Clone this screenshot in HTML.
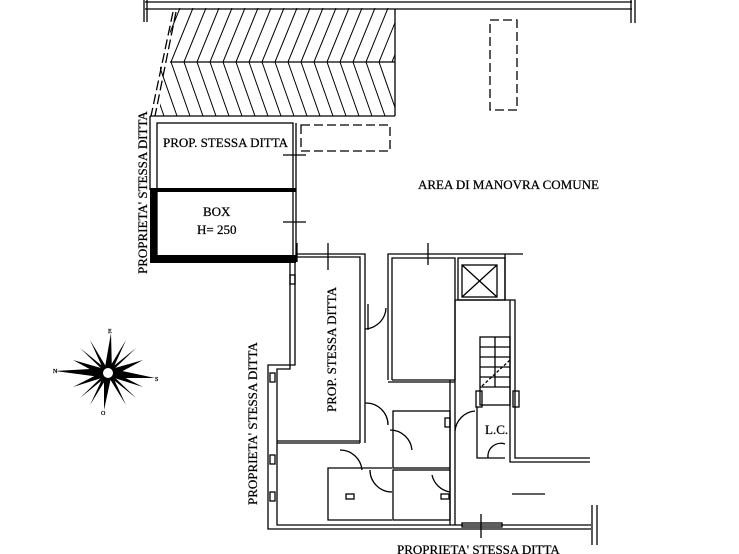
<!DOCTYPE html>
<html><head><meta charset="utf-8"><style>
html,body{margin:0;padding:0;background:#fff}
svg{display:block}
text{font-family:"Liberation Serif",serif;font-size:13px;fill:#000;stroke:#000;stroke-width:0.25}
</style></head><body>
<svg width="739" height="554" viewBox="0 0 739 554" xmlns="http://www.w3.org/2000/svg">
<defs>
<clipPath id="up"><rect x="170" y="8" width="225" height="54"/></clipPath>
<clipPath id="dn"><rect x="160" y="62" width="235" height="54"/></clipPath>
</defs>
<g stroke="#000" fill="none" stroke-width="1.3">
<line x1="145" y1="2" x2="632" y2="2"/>
<line x1="145" y1="9" x2="632" y2="9"/>
<line x1="144" y1="0" x2="144" y2="22"/><line x1="147" y1="0" x2="147" y2="22"/>
<line x1="631" y1="0" x2="631" y2="23"/><line x1="635" y1="0" x2="635" y2="23"/>
<line x1="395" y1="9" x2="395" y2="116"/>
<line x1="170" y1="62" x2="395" y2="62"/>
<line x1="150" y1="116" x2="395" y2="116"/>
<line x1="173" y1="12" x2="151" y2="116" stroke-dasharray="10 4"/>
<line x1="176" y1="12" x2="155" y2="116" stroke-dasharray="10 4"/>
<g clip-path="url(#up)" stroke-width="1">
<line x1="158" y1="62" x2="180" y2="8"/><line x1="171" y1="62" x2="193" y2="8"/><line x1="184" y1="62" x2="206" y2="8"/><line x1="197" y1="62" x2="219" y2="8"/><line x1="210" y1="62" x2="232" y2="8"/><line x1="223" y1="62" x2="245" y2="8"/><line x1="236" y1="62" x2="258" y2="8"/><line x1="249" y1="62" x2="271" y2="8"/><line x1="262" y1="62" x2="284" y2="8"/><line x1="275" y1="62" x2="297" y2="8"/><line x1="288" y1="62" x2="310" y2="8"/><line x1="301" y1="62" x2="323" y2="8"/><line x1="314" y1="62" x2="336" y2="8"/><line x1="327" y1="62" x2="349" y2="8"/><line x1="340" y1="62" x2="362" y2="8"/><line x1="353" y1="62" x2="375" y2="8"/><line x1="366" y1="62" x2="388" y2="8"/><line x1="379" y1="62" x2="401" y2="8"/><line x1="392" y1="62" x2="414" y2="8"/>
</g>
<g clip-path="url(#dn)" stroke-width="1">
<line x1="158" y1="62" x2="177" y2="116"/><line x1="171" y1="62" x2="190" y2="116"/><line x1="184" y1="62" x2="203" y2="116"/><line x1="197" y1="62" x2="216" y2="116"/><line x1="210" y1="62" x2="229" y2="116"/><line x1="223" y1="62" x2="242" y2="116"/><line x1="236" y1="62" x2="255" y2="116"/><line x1="249" y1="62" x2="268" y2="116"/><line x1="262" y1="62" x2="281" y2="116"/><line x1="275" y1="62" x2="294" y2="116"/><line x1="288" y1="62" x2="307" y2="116"/><line x1="301" y1="62" x2="320" y2="116"/><line x1="314" y1="62" x2="333" y2="116"/><line x1="327" y1="62" x2="346" y2="116"/><line x1="340" y1="62" x2="359" y2="116"/><line x1="353" y1="62" x2="372" y2="116"/><line x1="366" y1="62" x2="385" y2="116"/><line x1="379" y1="62" x2="398" y2="116"/><line x1="145" y1="62" x2="164" y2="116"/>
</g>
<line x1="150" y1="116" x2="150" y2="190"/>
<rect x="157" y="123" width="136" height="135"/>
<line x1="296" y1="123" x2="296" y2="262"/>
<line x1="283" y1="155" x2="306" y2="155"/><line x1="283" y1="222" x2="306" y2="222"/>
<rect x="301" y="125" width="89" height="26" stroke-dasharray="9 4"/>
<rect x="490" y="20" width="27" height="90" stroke-dasharray="9 4"/>
</g>
<g fill="#000">
<rect x="150" y="188" width="146" height="4"/>
<rect x="150" y="188" width="7" height="75"/>
<rect x="150" y="255" width="146" height="8"/>
</g>
<g stroke="#000" fill="none" stroke-width="1.3">
<polyline points="296,254 365,254 365,443"/>
<polyline points="296,257 360,257 360,443"/>
<polyline points="295,262 295,365 268,365 268,529 591,529"/>
<polyline points="290,262 290,369 277,369 277,525 591,525"/>
<line x1="592" y1="505" x2="592" y2="545"/><line x1="597" y1="505" x2="597" y2="545"/>
<line x1="277" y1="443" x2="360" y2="443"/>
<line x1="277" y1="441" x2="360" y2="441"/>
<line x1="297" y1="243" x2="297" y2="262" />
<line x1="328" y1="243" x2="328" y2="270"/>
<line x1="368" y1="304" x2="368" y2="330"/>
<path d="M365,329 A22,22 0 0 0 386,308"/>
<polyline points="388,380 388,254 523,254"/>
<polyline points="392,380 392,258 455,258 455,380 392,380"/>
<line x1="388" y1="382" x2="455" y2="382"/>
<line x1="428" y1="243" x2="428" y2="265"/>
<rect x="458" y="258" width="47" height="42"/>
<rect x="462" y="265" width="35" height="32"/>
<line x1="462" y1="265" x2="497" y2="297"/><line x1="497" y1="265" x2="462" y2="297"/>
<polyline points="505,254 505,300 515,300 515,458 590,458"/>
<polyline points="455,300 505,300"/>
<polyline points="510,300 510,462 590,462"/>
<line x1="455" y1="300" x2="455" y2="525"/>
<line x1="450" y1="380" x2="450" y2="525"/>
<rect x="480" y="337" width="30" height="68"/>
<line x1="480" y1="347" x2="510" y2="347"/><line x1="480" y1="357" x2="510" y2="357"/><line x1="480" y1="367" x2="510" y2="367"/><line x1="480" y1="377" x2="510" y2="377"/><line x1="480" y1="387" x2="510" y2="387"/>
<line x1="495" y1="337" x2="495" y2="387"/>
<line x1="482" y1="386" x2="510" y2="360" stroke-dasharray="3 2"/>
<rect x="476" y="391" width="6" height="16"/><rect x="513" y="391" width="6" height="16"/>
<polyline points="477,407 477,458 505,458"/>
<path d="M488,458 A13,13 0 0 1 505,444"/>
<line x1="512" y1="494" x2="545" y2="494"/>
<rect x="393" y="411" width="57" height="57"/>
<rect x="393" y="470" width="57" height="50"/>
<polyline points="392,468 328,468 328,520 392,520"/>
<path d="M455,431 A22,22 0 0 1 475,411"/>
<path d="M365,403 A22,22 0 0 1 388,425"/>
<path d="M390,430 A22,22 0 0 1 412,450"/>
<path d="M340,450 A22,22 0 0 1 362,470"/>
<path d="M370,470 A22,22 0 0 0 392,492"/>
<path d="M432,475 A22,22 0 0 0 450,492"/>
<line x1="481" y1="514" x2="481" y2="538"/>
<rect x="462" y="523" width="40" height="4"/>
<rect x="346" y="494" width="8" height="5"/><rect x="441" y="494" width="8" height="5"/>
<rect x="445" y="418" width="5" height="9"/>
<rect x="270" y="373" width="5" height="9"/><rect x="270" y="455" width="5" height="9"/><rect x="270" y="492" width="5" height="9"/>
<rect x="290" y="275" width="5" height="9"/>
</g>
<g fill="#000">
<polygon points="108,368 55,371 108,378"/>
<polygon points="108,368 155,378 108,378"/>
<polygon points="104,373 111,333 112,373"/>
<polygon points="104,373 104,410 112,373"/>
<polygon points="106,369 80,348 110,377"/>
<polygon points="110,369 136,348 106,377"/>
<polygon points="106,377 80,398 110,369"/>
<polygon points="110,377 136,398 106,369"/>
<polygon points="104,371 90,340 111,375"/>
<polygon points="112,371 126,340 105,375"/>
<polygon points="104,375 90,405 111,371"/>
<polygon points="112,375 126,405 105,371"/>
<polygon points="108,370 73,360 106,378"/>
<polygon points="108,370 143,360 110,378"/>
<polygon points="108,376 73,387 110,368"/>
<polygon points="108,376 143,387 106,368"/>
</g>
<circle cx="108" cy="373" r="5" fill="#fff"/>
<text x="53" y="373" style="font-size:6px">N</text>
<text x="108" y="333" style="font-size:6px">E</text>
<text x="155" y="381" style="font-size:6px">S</text>
<text x="101" y="415" style="font-size:6px">O</text>
<text x="163" y="147">PROP. STESSA DITTA</text>
<text x="203" y="216">BOX</text>
<text x="197" y="234">H= 250</text>
<text x="418" y="189">AREA DI MANOVRA COMUNE</text>
<text x="485" y="434">L.C.</text>
<text x="397" y="554">PROPRIETA' STESSA DITTA</text>
<text transform="translate(147,274) rotate(-90)">PROPRIETA' STESSA DITTA</text>
<text transform="translate(336,412) rotate(-90)">PROP. STESSA DITTA</text>
<text transform="translate(257,505) rotate(-90)">PROPRIETA' STESSA DITTA</text>
</svg>
</body></html>
